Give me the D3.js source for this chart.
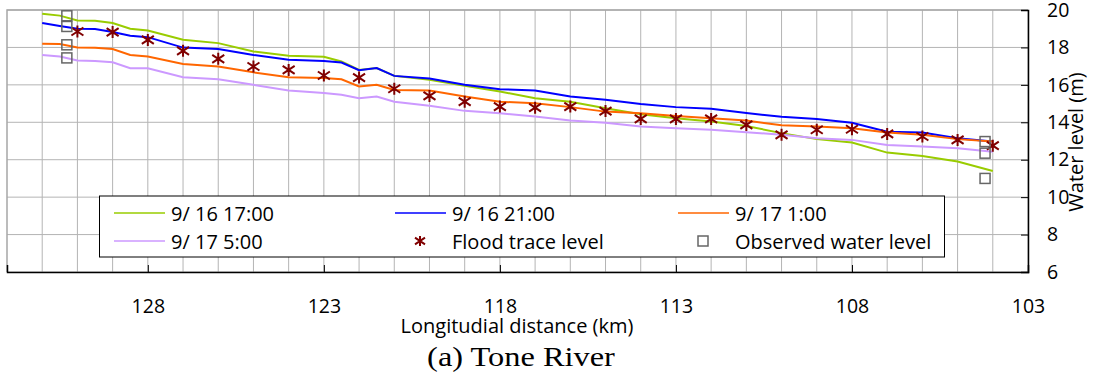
<!DOCTYPE html>
<html>
<head>
<meta charset="utf-8">
<script src="https://cdn.jsdelivr.net/npm/d3@7"></script>
<style>
body { margin: 0; background: #fff; }
svg { display: block; font-family: "Open Sans", "Noto Sans", sans-serif; }
</style>
</head>
<body>
<div id="container"></div>
<script>
/* DATA */
const km = [131, 130.5, 130, 129.5, 129, 128.5, 128, 127, 126, 125, 124, 123, 122.5, 122, 121.5, 121,
  120, 119, 118, 117, 116, 115, 114, 113, 112, 111, 110, 109, 108, 107, 106, 105, 104];

const green1617 = [19.8, 19.7, 19.44, 19.42, 19.3, 19.0, 18.9, 18.41, 18.23, 17.78, 17.55, 17.5, 17.25, 16.8, 16.9, 16.48,
  16.27, 15.95, 15.64, 15.29, 15.1, 14.75, 14.43, 14.22, 14.04, 13.8, 13.42, 13.1, 12.92, 12.38, 12.2, 11.9, 11.4];
const blue1621 = [19.3, 19.15, 19.0, 18.98, 18.82, 18.62, 18.55, 17.99, 17.91, 17.6, 17.34, 17.28, 17.19, 16.78, 16.9, 16.48,
  16.34, 16.0, 15.77, 15.7, 15.38, 15.2, 14.98, 14.81, 14.72, 14.49, 14.3, 14.17, 13.98, 13.5, 13.45, 13.15, 12.97];
const orange1701 = [18.19, 18.18, 18.0, 17.98, 17.91, 17.6, 17.51, 17.11, 16.98, 16.67, 16.41, 16.36, 16.3, 15.91, 16.0, 15.73,
  15.7, 15.38, 15.1, 15.02, 14.81, 14.57, 14.48, 14.34, 14.22, 14.09, 13.84, 13.77, 13.68, 13.45, 13.33, 13.1, 12.97];
const purple1705 = [17.6, 17.51, 17.3, 17.28, 17.21, 16.89, 16.89, 16.41, 16.3, 16.0, 15.7, 15.56, 15.47, 15.29, 15.38, 15.1,
  14.88, 14.61, 14.48, 14.31, 14.09, 13.98, 13.77, 13.68, 13.6, 13.47, 13.33, 13.15, 13.06, 12.79, 12.7, 12.61, 12.43];

const traceKm = [130, 129, 128, 127, 126, 125, 124, 123, 122, 121, 120, 119, 118, 117, 116, 115, 114, 113, 112, 111,
  110, 109, 108, 107, 106, 105, 104];
const traceLevel = [18.85, 18.82, 18.4, 17.82, 17.39, 16.98, 16.8, 16.5, 16.39, 15.79, 15.41, 15.1, 14.84, 14.78, 14.84, 14.6,
  14.18, 14.18, 14.18, 13.86, 13.33, 13.6, 13.63, 13.38, 13.24, 13.06, 12.75];

const obsKm = [130.3, 130.3, 130.3, 130.3, 104.22, 104.22, 104.22];
const obsLevel = [19.69, 19.12, 18.14, 17.44, 12.97, 12.35, 11.0];

const xTicks = [128, 123, 118, 113, 108, 103];
const yTicks = [6, 8, 10, 12, 14, 16, 18, 20];

const seriesNames = ["9/ 16 17:00", "9/ 16 21:00", "9/ 17 1:00", "9/ 17 5:00"];
const seriesColors = ["#99cc00", "#0000ff", "#ff6600", "#cc99ff"];
const seriesValues = [green1617, blue1621, orange1701, purple1705];

/* CONSTANTS */
const width = 1093, height = 376;
const margin = { top: 10, bottom: 104, left: 7, right: 65 };

const svg = d3.select("#container")
  .append("svg")
  .attr("width", width)
  .attr("height", height);

const x = d3.scaleLinear().domain([132, 103]).range([margin.left, width - margin.right]);
const y = d3.scaleLinear().domain([6, 20]).range([height - margin.bottom, margin.top]);

// GRID
svg.append("g")
  .selectAll("line")
  .data(d3.range(103, 132))
  .join("line")
  .attr("x1", d => x(d)).attr("x2", d => x(d))
  .attr("y1", y(6)).attr("y2", y(20))
  .attr("stroke", "#b4b4b4");

svg.append("g")
  .selectAll("line")
  .data(yTicks)
  .join("line")
  .attr("x1", x(132)).attr("x2", x(103))
  .attr("y1", d => y(d)).attr("y2", d => y(d))
  .attr("stroke", "#b4b4b4");

// top + left border (grey)
svg.append("path")
  .attr("d", `M${x(132)},${y(6)}V${y(20)}H${x(103)}`)
  .attr("fill", "none")
  .attr("stroke", "#a6a6a6")
  .attr("stroke-width", 1.5);

// LINES
const lineGen = d3.line().x(d => x(d[0])).y(d => y(d[1]));
seriesValues.forEach((vals, i) => {
  svg.append("path")
    .datum(km.map((k, j) => [k, vals[j]]))
    .attr("fill", "none")
    .attr("stroke", seriesColors[i])
    .attr("stroke-width", 2)
    .attr("d", lineGen);
});

// MARKERS
const star = "M0,-6V6M-6,-4L6,4M-6,4L6,-4";
svg.append("g")
  .selectAll("path")
  .data(traceKm.map((k, i) => [k, traceLevel[i]]))
  .join("path")
  .attr("transform", d => `translate(${x(d[0])},${y(d[1])})`)
  .attr("d", star)
  .attr("stroke", "#800000")
  .attr("stroke-width", 2)
  .attr("fill", "none");

svg.append("g")
  .selectAll("rect")
  .data(obsKm.map((k, i) => [k, obsLevel[i]]))
  .join("rect")
  .attr("x", d => x(d[0]) - 5)
  .attr("y", d => y(d[1]) - 5)
  .attr("width", 10).attr("height", 10)
  .attr("fill", "none")
  .attr("stroke", "#666")
  .attr("stroke-width", 1.5);

// AXES
const xAxis = d3.axisBottom(x).tickValues(xTicks).tickSize(-7).tickPadding(27).tickFormat(d3.format("d"));
svg.append("g")
  .attr("transform", `translate(0,${y(6)})`)
  .call(xAxis)
  .call(g => g.select(".domain").attr("stroke-width", 1.5))
  .call(g => g.selectAll("text").attr("font-size", 19.5).attr("font-family", "Open Sans").attr("fill", "#000"));

const yAxis = d3.axisRight(y).tickValues(yTicks).tickSize(-7).tickPadding(19).tickFormat(d3.format("d"));
svg.append("g")
  .attr("transform", `translate(${x(103)},0)`)
  .call(yAxis)
  .call(g => g.select(".domain").attr("stroke-width", 1.5))
  .call(g => g.selectAll("text").attr("font-size", 19.5).attr("font-family", "Open Sans").attr("fill", "#000"));

// AXIS TITLES
svg.append("text")
  .attr("x", 517).attr("y", 333)
  .attr("text-anchor", "middle")
  .attr("font-size", 20)
  .text("Longitudial distance (km)");

svg.append("text")
  .attr("transform", "translate(1075,142) rotate(-90)")
  .attr("text-anchor", "middle")
  .attr("dominant-baseline", "central")
  .attr("font-size", 20)
  .text("Water level (m)");

svg.append("text")
  .attr("transform", "translate(521,366) scale(1.2,1)")
  .attr("text-anchor", "middle")
  .attr("font-family", "Liberation Serif, Times New Roman, serif")
  .attr("font-size", 27)
  .text("(a) Tone River");

// LEGEND
const legend = svg.append("g");
legend.append("rect")
  .attr("x", 99.5).attr("y", 196)
  .attr("width", 845).attr("height", 61)
  .attr("fill", "#fff")
  .attr("stroke", "#000");

const legendItems = [
  { label: seriesNames[0], color: seriesColors[0], type: "line", col: 0, row: 0 },
  { label: seriesNames[1], color: seriesColors[1], type: "line", col: 1, row: 0 },
  { label: seriesNames[2], color: seriesColors[2], type: "line", col: 2, row: 0 },
  { label: seriesNames[3], color: seriesColors[3], type: "line", col: 0, row: 1 },
  { label: "Flood trace level", color: "#800000", type: "star", col: 1, row: 1 },
  { label: "Observed water level", color: "#666", type: "square", col: 2, row: 1 }
];
const colX = [114, 395, 678];
const rowY = [213, 241];

legendItems.forEach(it => {
  const lx = colX[it.col], ly = rowY[it.row];
  if (it.type === "line") {
    legend.append("line")
      .attr("x1", lx).attr("x2", lx + 51)
      .attr("y1", ly).attr("y2", ly)
      .attr("stroke", it.color).attr("stroke-width", 1.5);
  } else if (it.type === "star") {
    legend.append("path")
      .attr("transform", `translate(${lx + 25},${ly})`)
      .attr("d", "M0,-5V5M-5,-3.3L5,3.3M-5,3.3L5,-3.3")
      .attr("stroke", it.color).attr("stroke-width", 2);
  } else {
    legend.append("rect")
      .attr("x", lx + 20).attr("y", ly - 5)
      .attr("width", 10).attr("height", 10)
      .attr("fill", "none")
      .attr("stroke", it.color).attr("stroke-width", 1.5);
  }
  legend.append("text")
    .attr("x", lx + 57).attr("y", ly)
    .attr("dominant-baseline", "central")
    .attr("font-size", 20)
    .text(it.label);
});
</script>
</body>
</html>
